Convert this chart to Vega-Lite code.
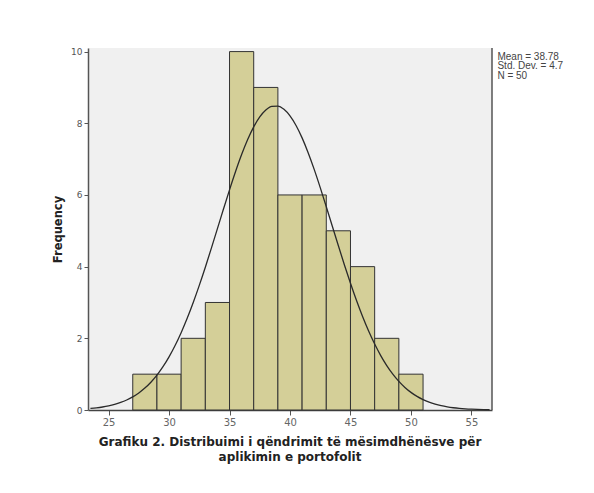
{
  "$schema": "https://vega.github.io/schema/vega-lite/v6.json",
  "width": 404,
  "height": 362,
  "autosize": "none",
  "padding": {"left": 88, "top": 48, "right": 102, "bottom": 83},
  "background": "white",
  "config": {
    "view": {"fill": "#f0f0f0", "stroke": null},
    "font": "DejaVu Sans"
  },
  "title": {
    "text": ["Grafiku 2. Distribuimi i qëndrimit të mësimdhënësve për", "aplikimin e portofolit"],
    "orient": "bottom",
    "anchor": "middle",
    "font": "DejaVu Sans",
    "fontSize": 12,
    "fontWeight": "bold",
    "color": "#222222",
    "offset": 10,
    "lineHeight": 15
  },
  "layer": [
    {
      "data": {"values": [
        {"bin_start": 27, "bin_end": 29, "count": 1},
        {"bin_start": 29, "bin_end": 31, "count": 1},
        {"bin_start": 31, "bin_end": 33, "count": 2},
        {"bin_start": 33, "bin_end": 35, "count": 3},
        {"bin_start": 35, "bin_end": 37, "count": 10},
        {"bin_start": 37, "bin_end": 39, "count": 9},
        {"bin_start": 39, "bin_end": 41, "count": 6},
        {"bin_start": 41, "bin_end": 43, "count": 6},
        {"bin_start": 43, "bin_end": 45, "count": 5},
        {"bin_start": 45, "bin_end": 47, "count": 4},
        {"bin_start": 47, "bin_end": 49, "count": 2},
        {"bin_start": 49, "bin_end": 51, "count": 1}
      ]},
      "mark": {"type": "rect", "fill": "#d4cf98", "stroke": "#333333", "strokeWidth": 1},
      "encoding": {
        "x": {
          "field": "bin_start", "type": "quantitative",
          "scale": {"domain": [23.3, 56.7], "nice": false, "zero": false},
          "axis": {
            "title": null, "values": [25, 30, 35, 40, 45, 50, 55], "grid": false,
            "domainColor": "#444444", "domainWidth": 1.5, "tickColor": "#555555", "tickSize": 5,
            "labelColor": "#666666", "labelFontSize": 10, "labelFont": "DejaVu Sans", "labelPadding": 2
          }
        },
        "x2": {"field": "bin_end"},
        "y": {
          "field": "count", "type": "quantitative",
          "scale": {"domain": [0, 10.1], "nice": false},
          "axis": {
            "title": "Frequency", "values": [0, 2, 4, 6, 8, 10], "grid": false,
            "domainColor": "#555555", "domainWidth": 1.5, "tickColor": "#555555", "tickSize": 4,
            "labelColor": "#555555", "labelFontSize": 9, "labelFont": "DejaVu Sans", "labelPadding": 2,
            "titleFontSize": 11.5, "titleFontWeight": "bold", "titleColor": "#222222", "titlePadding": 7
          }
        },
        "y2": {"datum": 0}
      }
    },
    {
      "data": {"values": [
        {"x": 23.5, "y": 0.0430}, {"x": 24, "y": 0.0605}, {"x": 24.5, "y": 0.0840}, {"x": 25, "y": 0.1154},
        {"x": 25.5, "y": 0.1567}, {"x": 26, "y": 0.2105}, {"x": 26.5, "y": 0.2796}, {"x": 27, "y": 0.3670},
        {"x": 27.5, "y": 0.4765}, {"x": 28, "y": 0.6115}, {"x": 28.5, "y": 0.7761}, {"x": 29, "y": 0.9741},
        {"x": 29.5, "y": 1.2085}, {"x": 30, "y": 1.4826}, {"x": 30.5, "y": 1.7984}, {"x": 31, "y": 2.1569},
        {"x": 31.5, "y": 2.5576}, {"x": 32, "y": 2.9987}, {"x": 32.5, "y": 3.4764}, {"x": 33, "y": 3.9848},
        {"x": 33.5, "y": 4.5162}, {"x": 34, "y": 5.0605}, {"x": 34.5, "y": 5.6076}, {"x": 35, "y": 6.1429},
        {"x": 35.5, "y": 6.6534}, {"x": 36, "y": 7.1259}, {"x": 36.5, "y": 7.5459}, {"x": 37, "y": 7.9008},
        {"x": 37.5, "y": 8.1791}, {"x": 38, "y": 8.3720}, {"x": 38.5, "y": 8.4731}, {"x": 39, "y": 8.4788},
        {"x": 39.5, "y": 8.3891}, {"x": 40, "y": 8.2069}, {"x": 40.5, "y": 7.9384}, {"x": 41, "y": 7.5922},
        {"x": 41.5, "y": 7.1793}, {"x": 42, "y": 6.7126}, {"x": 42.5, "y": 6.2054}, {"x": 43, "y": 5.6722},
        {"x": 43.5, "y": 5.1263}, {"x": 44, "y": 4.5809}, {"x": 44.5, "y": 4.0475}, {"x": 45, "y": 3.5359},
        {"x": 45.5, "y": 3.0542}, {"x": 46, "y": 2.6086}, {"x": 46.5, "y": 2.2028}, {"x": 47, "y": 1.8393},
        {"x": 47.5, "y": 1.5183}, {"x": 48, "y": 1.2392}, {"x": 48.5, "y": 1.0001}, {"x": 49, "y": 0.7980},
        {"x": 49.5, "y": 0.6295}, {"x": 50, "y": 0.4912}, {"x": 50.5, "y": 0.3788}, {"x": 51, "y": 0.2890},
        {"x": 51.5, "y": 0.2179}, {"x": 52, "y": 0.1625}, {"x": 52.5, "y": 0.1197}, {"x": 53, "y": 0.0873},
        {"x": 53.5, "y": 0.0630}, {"x": 54, "y": 0.0448}, {"x": 54.5, "y": 0.0316}, {"x": 55, "y": 0.0220},
        {"x": 55.5, "y": 0.0152}, {"x": 56, "y": 0.0103}, {"x": 56.5, "y": 0.0070}
      ]},
      "mark": {"type": "line", "color": "#2a2a2a", "strokeWidth": 1.3, "interpolate": "monotone"},
      "encoding": {
        "x": {"field": "x", "type": "quantitative"},
        "y": {"field": "y", "type": "quantitative"}
      }
    },
    {
      "data": {"values": [{"edge": 56.7}]},
      "mark": {"type": "rule", "color": "#555555", "strokeWidth": 1.5},
      "encoding": {
        "x": {"field": "edge", "type": "quantitative"},
        "y": {"datum": 0},
        "y2": {"datum": 10.1}
      }
    },
    {
      "data": {"values": [{"mean": 38.78, "sd": 4.7, "n": 50}]},
      "mark": {
        "type": "text",
        "text": ["Mean = 38.78", "Std. Dev. = 4.7", "N = 50"],
        "align": "left",
        "baseline": "top",
        "fontSize": 10,
        "lineHeight": 9.5,
        "color": "#444444",
        "font": "Liberation Sans",
        "clip": false
      },
      "encoding": {
        "x": {"datum": 57.15},
        "y": {"datum": 10.0}
      }
    }
  ]
}
